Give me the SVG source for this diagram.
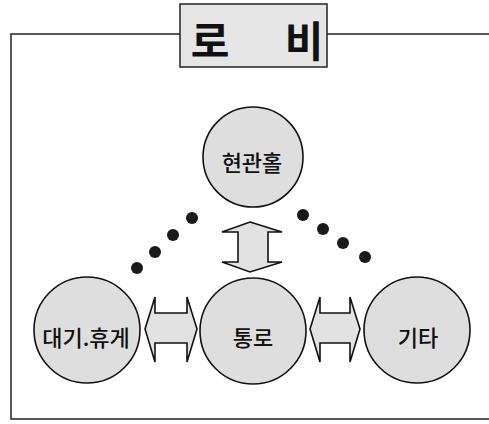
<svg xmlns="http://www.w3.org/2000/svg" width="489" height="424" viewBox="0 0 489 424">
<style>
.frame{fill:none;stroke:#222;stroke-width:1.5}
.node{fill:#dedede;stroke:#111;stroke-width:1.6}
.arrow{fill:#e2e2e2;stroke:#111;stroke-width:1.6;stroke-linejoin:miter}
.dot{fill:#1a1a1a}
.lbl{font-family:"Noto Sans CJK KR","Noto Sans",sans-serif;font-size:22px;fill:#111;text-anchor:middle;dominant-baseline:central;font-weight:500}
.title{font-family:"Noto Sans CJK KR","Noto Sans",sans-serif;font-size:42px;fill:#111;text-anchor:middle;dominant-baseline:central;font-weight:700}
</style>
<rect width="489" height="424" fill="#fff"/>
<path class="frame" d="M180 34 H11 V419 H489 M327 34 H489"/>
<g id="title">
<rect x="180" y="4" width="147" height="63" fill="#e6e6e6" stroke="#222" stroke-width="1.5"/>
<text class="title" x="210" y="38">로</text>
<text class="title" x="304" y="38">비</text>
</g>
<g id="connectors">
<circle class="dot" cx="137" cy="268" r="6"/>
<circle class="dot" cx="155" cy="252" r="6"/>
<circle class="dot" cx="173" cy="235" r="6"/>
<circle class="dot" cx="192" cy="218" r="6"/>
<circle class="dot" cx="303" cy="215" r="6"/>
<circle class="dot" cx="323" cy="229" r="6"/>
<circle class="dot" cx="343" cy="243" r="6"/>
<circle class="dot" cx="365" cy="257" r="6"/>
<polygon class="arrow" points="250,222 282,232 268,232 268,262 282,262 250,272 222,262 238,262 238,232 222,232"/>
<polygon class="arrow" points="145,329 155,297 155,313 187,313 187,297 197,329 187,362 187,343 155,343 155,362"/>
<polygon class="arrow" points="310,329 320,297 320,313 350,313 350,297 360,329 350,362 350,343 320,343 320,362"/>
</g>
<g id="hall">
<circle class="node" cx="253" cy="157" r="50"/>
<text class="lbl" x="252" y="161">현관홀</text>
</g>
<g id="rest">
<circle class="node" cx="87" cy="330" r="53"/>
<text class="lbl" x="86" y="336" font-size="24">대기.휴게</text>
</g>
<g id="passage">
<circle class="node" cx="253" cy="331" r="53"/>
<text class="lbl" x="253" y="336">통로</text>
</g>
<g id="etc">
<circle class="node" cx="417" cy="330" r="53"/>
<text class="lbl" x="418" y="336">기타</text>
</g>
</svg>
